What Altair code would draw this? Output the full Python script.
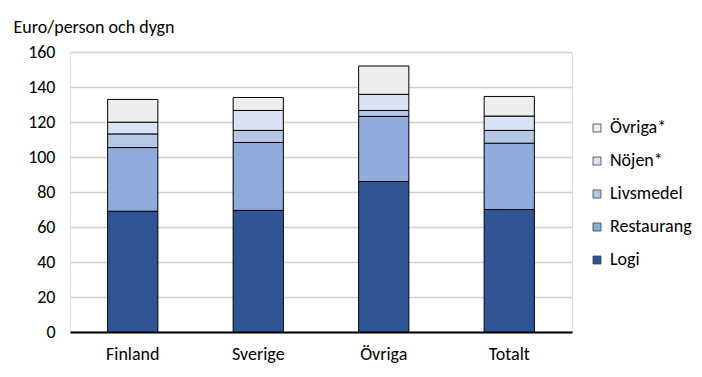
import altair as alt
import pandas as pd

countries = ["Finland", "Sverige", "Övriga", "Totalt"]
categories = ["Logi", "Restaurang", "Livsmedel", "Nöjen*", "Övriga*"]
logi = [69.0, 69.5, 86.0, 70.0]
restaurang = [36.4, 38.8, 37.2, 37.9]
livsmedel = [7.8, 6.9, 3.4, 7.3]
nojen = [6.7, 11.4, 9.2, 8.2]
ovriga = [13.0, 7.4, 16.2, 11.2]
colors = ["#2F5597", "#8FAADC", "#B4C7E7", "#DAE3F3", "#EEEEEE"]
y_ticks = [0, 20, 40, 60, 80, 100, 120, 140, 160]

series = [logi, restaurang, livsmedel, nojen, ovriga]
rows = []
for ci, cat in enumerate(categories):
    for i, c in enumerate(countries):
        rows.append({"land": c, "kategori": cat, "varde": series[ci][i], "ordning": ci})
df = pd.DataFrame(rows)

FONT = "Carlito, Lato, sans-serif"
FS = 18

chart = alt.Chart(df).mark_bar(stroke="black", strokeWidth=1).encode(
    x=alt.X("land:N", sort=countries,
            scale=alt.Scale(paddingInner=0.6, paddingOuter=0.3),
            axis=alt.Axis(title=None, labelAngle=0, ticks=False, domainColor="black",
                          domainWidth=2, labelPadding=13, labelFontSize=FS,
                          labelColor="black", labelFont=FONT)),
    y=alt.Y("varde:Q", stack="zero",
            scale=alt.Scale(domain=[0, 160], nice=False),
            axis=alt.Axis(values=y_ticks, title="Euro/person och dygn", titleAngle=0,
                          titleX=-57, titleY=-25, titleAlign="left", titleBaseline="middle",
                          titleFontSize=FS, titleFontWeight="normal", titleColor="black",
                          titleFont=FONT, domain=False, ticks=False, labelPadding=15,
                          labelFontSize=FS, labelColor="black", labelFont=FONT,
                          gridColor="#D0D0D0", gridWidth=1.5)),
    color=alt.Color("kategori:N",
                    scale=alt.Scale(domain=categories[::-1], range=colors[::-1]),
                    legend=alt.Legend(title=None, orient="none", legendX=518, legendY=67,
                                      symbolType="square", symbolSize=64,
                                      symbolStrokeColor="#404040", symbolStrokeWidth=0.8,
                                      labelFontSize=FS, labelFont=FONT, labelColor="black",
                                      rowPadding=15, labelOffset=4)),
    order=alt.Order("ordning:Q", sort="ascending"),
).properties(
    width=502, height=280,
    padding={"left": 62, "top": 44, "right": 120, "bottom": 45},
    autosize=alt.AutoSizeParams(type="none"),
).configure_view(
    stroke="black", strokeWidth=1.2
).configure(background="white")

chart.save("out.html", embed_options={"renderer": "svg", "actions": False})
